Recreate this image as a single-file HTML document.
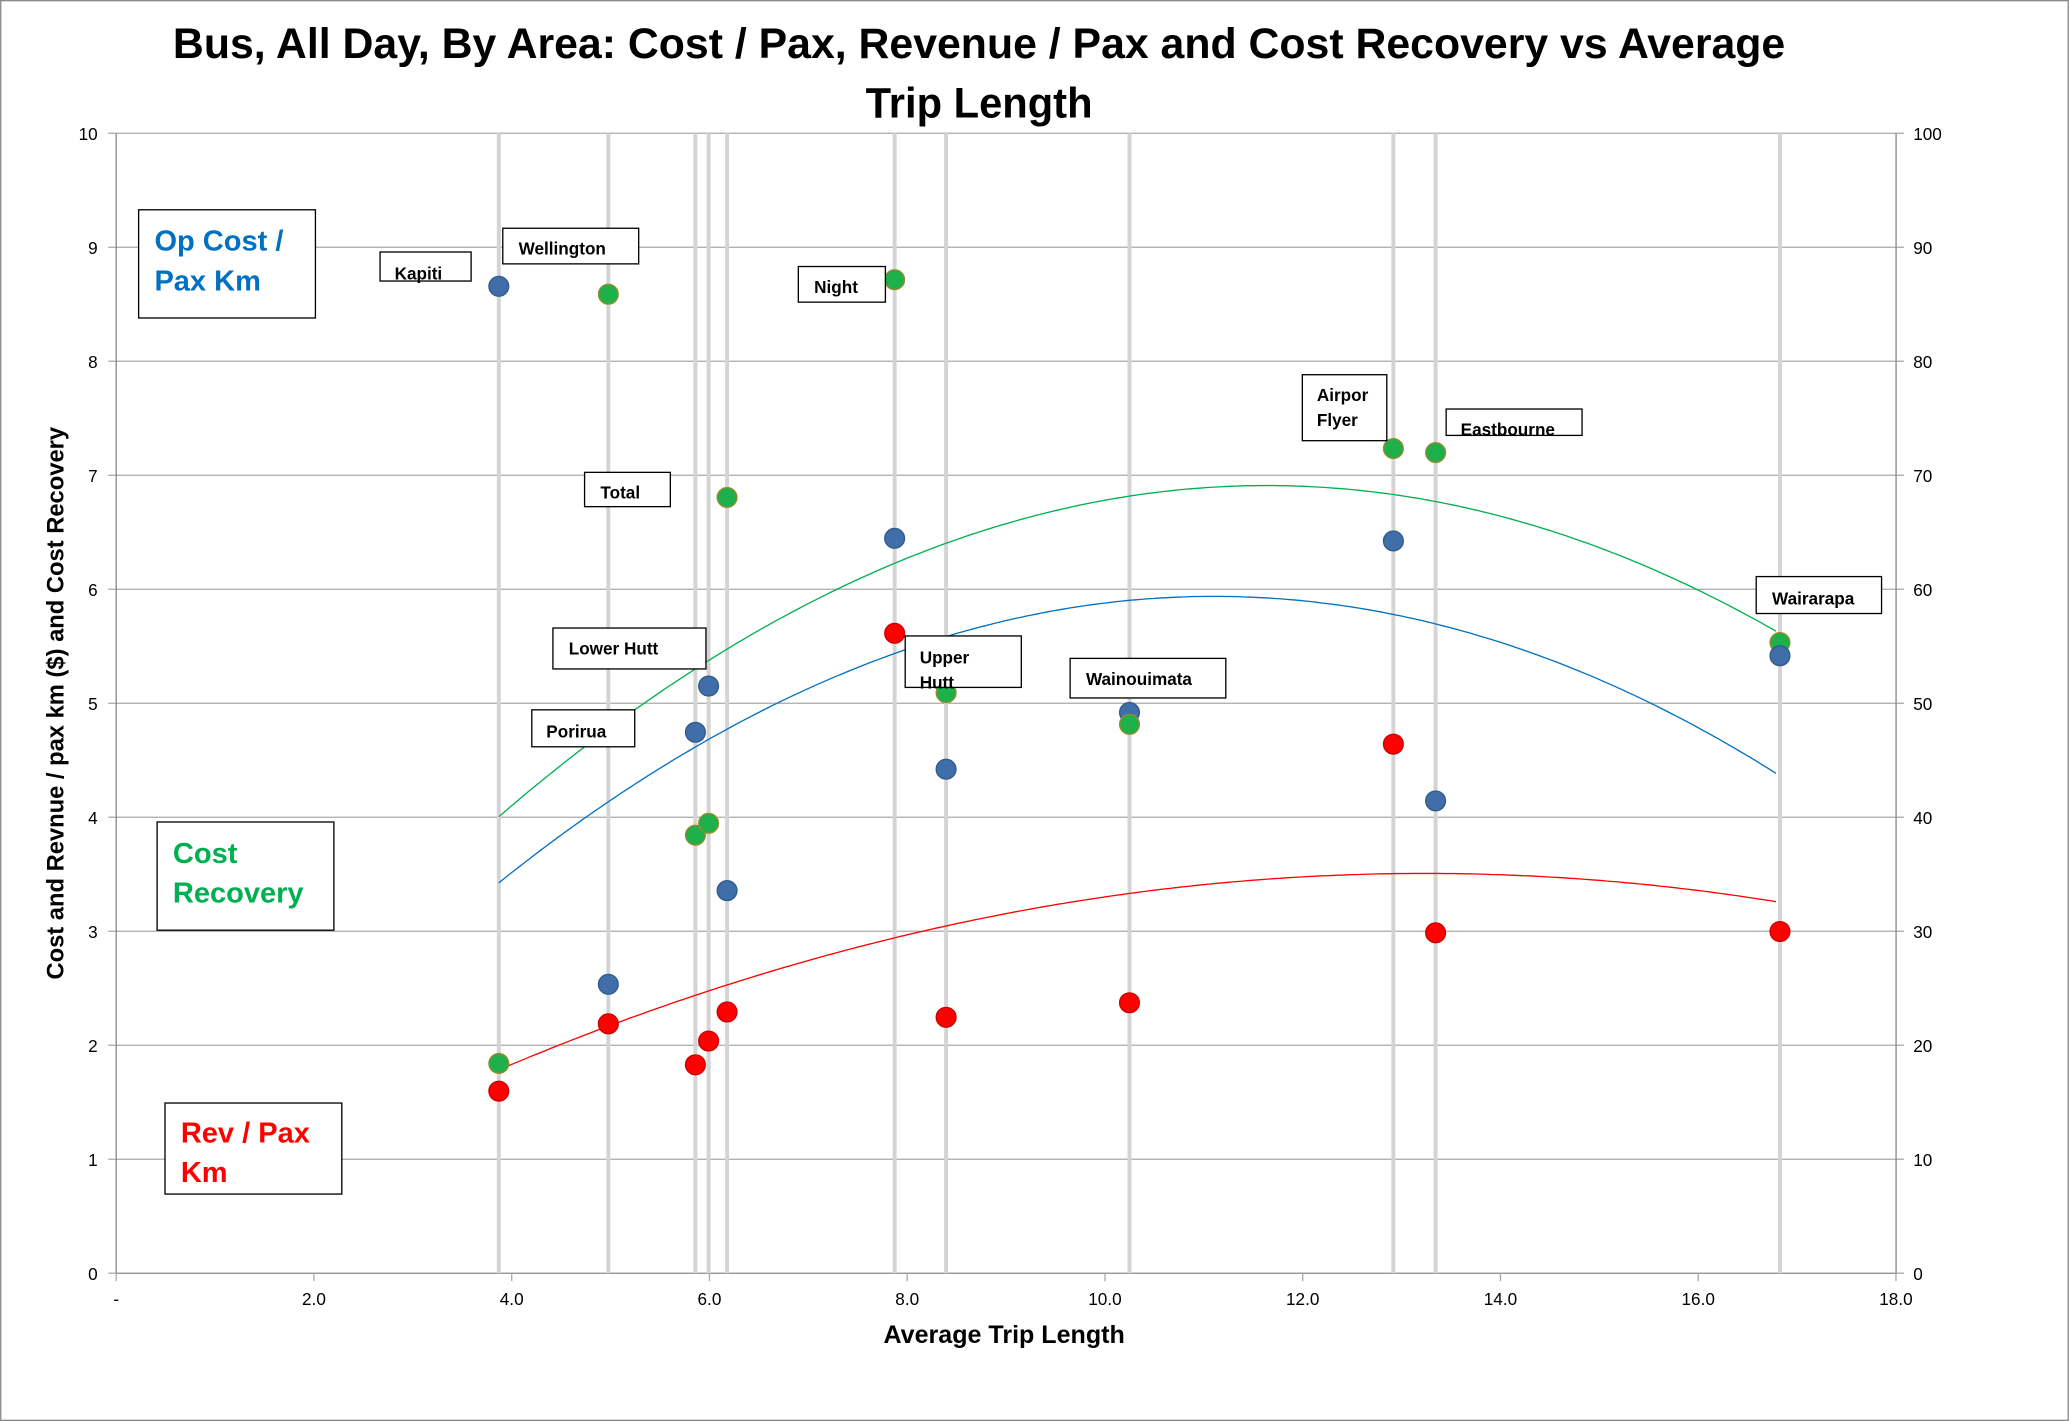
<!DOCTYPE html>
<html><head><meta charset="utf-8"><style>
html,body{margin:0;padding:0;background:#fff;}
svg{display:block;}
text{font-family:"Liberation Sans",sans-serif;}
</style></head><body>
<svg id="s" width="2069" height="1421" viewBox="0 0 1568 1077" xmlns="http://www.w3.org/2000/svg">
<rect x="0.5" y="0.5" width="1567" height="1076" fill="#fff" stroke="#888" stroke-width="1"/>
<text x="742" y="44" text-anchor="middle" font-size="32" font-weight="bold" textLength="1222" lengthAdjust="spacingAndGlyphs">Bus, All Day,  By Area: Cost / Pax, Revenue / Pax and Cost Recovery vs Average</text>
<text x="742" y="89" text-anchor="middle" font-size="32" font-weight="bold" textLength="172" lengthAdjust="spacingAndGlyphs">Trip Length</text>
<g id="grid" stroke="#aaa" stroke-width="1"></g>
<g id="vl" stroke="#d4d4d4" stroke-width="3"></g>
<g id="curves" fill="none" stroke-width="1"></g>
<g id="labels" font-size="13" fill="#000"></g>
<g id="pts"></g>
<g font-weight="bold" font-size="13">
<rect x="288" y="191" width="69" height="22" fill="#fff" stroke="#000"/><text x="299" y="212">Kapiti</text>
<rect x="381" y="173" width="103" height="27" fill="#fff" stroke="#000"/><text x="393" y="193">Wellington</text>
<rect x="605" y="202" width="66" height="27" fill="#fff" stroke="#000"/><text x="617" y="222">Night</text>
<rect x="443" y="358" width="65" height="26" fill="#fff" stroke="#000"/><text x="455" y="378">Total</text>
<rect x="419" y="476" width="116" height="31" fill="#fff" stroke="#000"/><text x="431" y="496">Lower Hutt</text>
<rect x="403" y="538" width="78" height="28" fill="#fff" stroke="#000"/><text x="414" y="559">Porirua</text>
<rect x="686" y="482" width="88" height="39" fill="#fff" stroke="#000"/><text x="697" y="503">Upper</text><text x="697" y="522">Hutt</text>
<rect x="811" y="499" width="118" height="30" fill="#fff" stroke="#000"/><text x="823" y="519">Wainouimata</text>
<rect x="987" y="284" width="64" height="50" fill="#fff" stroke="#000"/><text x="998" y="304">Airpor</text><text x="998" y="323">Flyer</text>
<rect x="1096" y="310" width="103" height="20" fill="#fff" stroke="#000"/><text x="1107" y="330">Eastbourne</text>
<rect x="1331" y="437" width="95" height="28" fill="#fff" stroke="#000"/><text x="1343" y="458">Wairarapa</text>
</g>
<g font-weight="bold" font-size="22">
<rect x="105" y="159" width="134" height="82" fill="#fff" stroke="#000"/><text x="117" y="190" fill="#0070c0">Op Cost /</text><text x="117" y="220" fill="#0070c0">Pax Km</text>
<rect x="119" y="623" width="134" height="82" fill="#fff" stroke="#000"/><text x="131" y="654" fill="#00b050">Cost</text><text x="131" y="684" fill="#00b050">Recovery</text>
<rect x="125" y="836" width="134" height="69" fill="#fff" stroke="#000"/><text x="137" y="866" fill="#ff0000">Rev / Pax</text><text x="137" y="896" fill="#ff0000">Km</text>
</g>
<text x="761" y="1018" text-anchor="middle" font-size="19" font-weight="bold">Average Trip Length</text>
<text transform="translate(48,533) rotate(-90)" text-anchor="middle" font-size="18" font-weight="bold">Cost and Revnue / pax km ($) and Cost Recovery</text>
</svg>
<script>
var NS="http://www.w3.org/2000/svg";
function el(p,t,a,txt){var e=document.createElementNS(NS,t);for(var k in a)e.setAttribute(k,a[k]);if(txt!=null)e.textContent=txt;document.getElementById(p).appendChild(e);return e;}
var X0=88,X1=1437,Y0=965,Y1=101;
for(var i=0;i<=10;i++){var y=Y0-i*86.4;
 el('grid','line',{x1:X0,x2:X1,y1:y,y2:y,stroke:i==0?'#888':'#aaa'});
 el('labels','text',{x:74,y:y+5,'text-anchor':'end'},String(i));
 el('labels','text',{x:1450,y:y+5},String(i*10));
 el('grid','line',{x1:X1,x2:X1+6,y1:y,y2:y});
 el('grid','line',{x1:X0-6,x2:X0,y1:y,y2:y});
}
el('grid','line',{x1:X0,x2:X0,y1:Y1,y2:Y0,stroke:'#888'});
el('grid','line',{x1:X1,x2:X1,y1:Y1,y2:Y0,stroke:'#888'});
for(var j=0;j<=9;j++){var x=X0+j*2*74.94;
 el('labels','text',{x:x,y:989,'text-anchor':'middle'},j==0?'-':(j*2).toFixed(1));
 el('grid','line',{x1:x,x2:x,y1:Y0,y2:Y0+6});}
var vx=[378,461,527,537,551,678,717,856,1056,1088,1349];
vx.forEach(function(x){el('vl','line',{x1:x,x2:x,y1:Y1,y2:Y0});});
function curve(h,k,a,c){var d='';for(var x=378;x<=1349;x+=4){var y=k+a*(x-h)*(x-h);d+=(d?'L':'M')+x+' '+y.toFixed(1);}el('curves','path',{d:d,stroke:c});}
curve(960,368,0.000741,'#00b050');
curve(920,452,0.000739,'#0070c0');
curve(1080,662,0.000302,'#ff0000');
var B='#3f6ea8',G='#1db04b',R='#ff0000';
var pts=[[378,217,B],[378,806,G],[378,827,R],[461,223,G],[461,746,B],[461,776,R],[527,555,B],[527,633,G],[527,807,R],[537,520,B],[537,624,G],[537,789,R],[551,377,G],[551,675,B],[551,767,R],[678,212,G],[678,408,B],[678,480,R],[717,525,G],[717,583,B],[717,771,R],[856,540,B],[856,549,G],[856,760,R],[1056,340,G],[1056,410,B],[1056,564,R],[1088,343,G],[1088,607,B],[1088,707,R],[1349,487,G],[1349,497,B],[1349,706,R]];
pts.forEach(function(p){el('pts','circle',{cx:p[0],cy:p[1],r:7.5,fill:p[2],stroke:p[2]==G?'#9a8a2a':(p[2]==R?'#c00':'#2f5a8e'),'stroke-width':1});});
</script>
</body></html>
